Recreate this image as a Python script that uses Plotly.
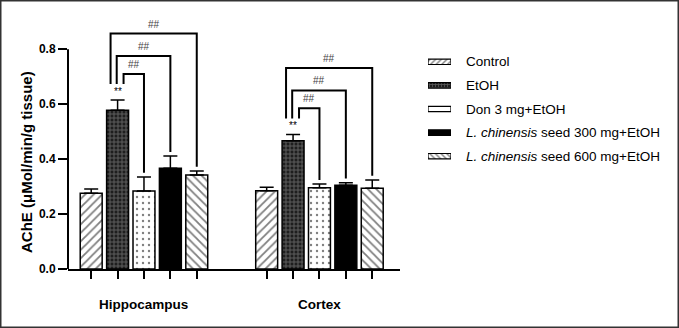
import plotly.graph_objects as go

# ---------------- data ----------------
regions = ["Hippocampus", "Cortex"]
groups = ["Control", "EtOH", "Don 3 mg+EtOH",
          "<i>L. chinensis</i> seed 300 mg+EtOH",
          "<i>L. chinensis</i> seed 600 mg+EtOH"]
hippo_mean = [0.276, 0.578, 0.284, 0.367, 0.342]
hippo_err = [0.015, 0.037, 0.051, 0.044, 0.015]
cortex_mean = [0.285, 0.467, 0.296, 0.305, 0.294]
cortex_err = [0.013, 0.023, 0.013, 0.009, 0.030]
ytick_vals = [0.0, 0.2, 0.4, 0.6, 0.8]
ytick_text = ["0.0", "0.2", "0.4", "0.6", "0.8"]
sig_star = "**"
sig_hash = "##"

# ---------------- styling ----------------
FONT = "Liberation Sans, Arial, sans-serif"
W, H = 679, 328
ML, MR, MT, MB = 68, 12, 8, 59
PW, PH = W - ML - MR, H - MT - MB
AX_W = 332                      # width of the bar-chart axis in px
step = 0.1504                   # spacing between bars within a group (x units)
bw = 0.125                      # bar width (x units)

def px_x(p):   # figure pixel x -> paper
    return (p - ML) / PW

def px_y(p):   # figure pixel y -> paper
    return (H - MB - p) / PH

patterns = [
    dict(shape="/", fgcolor="black", bgcolor="white", size=6, solidity=0.3),
    dict(shape="+", fgcolor="#9a9a9a", bgcolor="#1e1e1e", size=4, solidity=0.45),
    dict(shape=".", fgcolor="black", bgcolor="white", size=6, solidity=0.12),
    dict(shape="", fgcolor="black", bgcolor="black"),
    dict(shape="\\", fgcolor="black", bgcolor="white", size=6, solidity=0.3),
]
leg_patterns = [
    dict(shape="/", fgcolor="black", bgcolor="white", size=4, solidity=0.35),
    dict(shape="+", fgcolor="#9a9a9a", bgcolor="#1e1e1e", size=3, solidity=0.45),
    dict(shape="", fgcolor="white", bgcolor="white"),
    dict(shape="", fgcolor="black", bgcolor="black"),
    dict(shape="\\", fgcolor="black", bgcolor="white", size=4, solidity=0.35),
]
colors = ["white", "#1e1e1e", "white", "black", "white"]

fig = go.Figure()
all_pos = []
for i, name in enumerate(groups):
    xs = [g + (i - 2) * step for g in range(len(regions))]
    all_pos += xs
    means = [hippo_mean[i], cortex_mean[i]]
    errs = [hippo_err[i], cortex_err[i]]
    fig.add_trace(go.Bar(
        x=xs, y=means, width=bw, name=name, showlegend=False,
        marker=dict(color=colors[i], pattern=patterns[i],
                    line=dict(color="black", width=1.5)),
        error_y=dict(type="data", array=errs, arrayminus=[0, 0],
                     symmetric=False, color="black", thickness=1.5, width=7),
    ))
    # legend swatch as a short horizontal bar on a hidden auxiliary axis
    fig.add_trace(go.Bar(
        x=[1], y=[i], orientation="h", width=0.23, xaxis="x2", yaxis="y2",
        showlegend=False, hoverinfo="skip",
        marker=dict(color=colors[i], pattern=leg_patterns[i],
                    line=dict(color="black", width=1.2)),
    ))

shapes = []
annotations = []
# significance brackets: EtOH (index 1) vs groups 2,3,4
left_off = {2: 0.034, 3: -0.005, 4: -0.04}
rise = {2: 0.095, 3: 0.16, 4: 0.242}
for g, (means, errs) in enumerate([(hippo_mean, hippo_err), (cortex_mean, cortex_err)]):
    etoh_top = means[1] + errs[1]
    xe = g + (1 - 2) * step
    annotations.append(dict(x=xe, y=etoh_top, yshift=1, text=sig_star,
                            showarrow=False, yanchor="bottom",
                            font=dict(family=FONT, size=10, color="black")))
    for j in (2, 3, 4):
        xl = xe + left_off[j]
        xr = g + (j - 2) * step
        top = etoh_top + rise[j]
        lb = etoh_top + 0.058
        rb = means[j] + errs[j] + 0.015
        shapes.append(dict(type="path", xref="x", yref="y",
                           path=f"M {xl},{lb} L {xl},{top} L {xr},{top} L {xr},{rb}",
                           line=dict(color="black", width=2)))
        annotations.append(dict(x=(xl + xr) / 2, y=top, yshift=2, text=sig_hash,
                                showarrow=False, yanchor="bottom",
                                font=dict(family=FONT, size=10, color="#444")))
    annotations.append(dict(x=g, xref="x", y=px_y(304), yref="paper",
                            yanchor="middle", showarrow=False,
                            text=f"<b>{regions[g]}</b>",
                            font=dict(family=FONT, size=13.5, color="black")))

# legend texts
for i, name in enumerate(groups):
    annotations.append(dict(x=px_x(464), xref="paper", xanchor="left",
                            y=i, yref="y2", yanchor="middle", showarrow=False,
                            text=name, font=dict(family=FONT, size=13.5, color="black")))

# y axis line from 0 to 0.8
shapes.append(dict(type="line", xref="x domain", yref="y", x0=0, x1=0,
                   y0=0, y1=ytick_vals[-1], line=dict(color="black", width=2)))
# outer frame
shapes.append(dict(type="rect", xref="paper", yref="paper",
                   x0=px_x(0.75), x1=px_x(W - 0.75),
                   y0=px_y(H - 0.75), y1=px_y(0.75),
                   line=dict(color="#333", width=1.5)))
# y axis title
annotations.append(dict(x=px_x(26), xref="paper", y=px_y(162),
                        yref="paper", textangle=-90, showarrow=False,
                        xanchor="center", yanchor="middle",
                        text="<b>AChE (μMol/min/g tissue)</b>",
                        font=dict(family=FONT, size=15, color="black")))

fig.update_layout(
    width=W, height=H, margin=dict(l=ML, r=MR, t=MT, b=MB),
    paper_bgcolor="white", plot_bgcolor="white",
    barmode="overlay", showlegend=False,
    font=dict(family=FONT, color="black"),
    xaxis=dict(domain=[0, AX_W / PW], range=[-0.433, 1.459], showgrid=False,
               zeroline=False, showline=True, linecolor="black", linewidth=2,
               tickvals=all_pos, ticks="outside", ticklen=8, tickwidth=2,
               tickcolor="black", showticklabels=False),
    yaxis=dict(range=[0, 0.95], showgrid=False, zeroline=False, showline=False,
               tickvals=ytick_vals, ticktext=ytick_text, ticks="outside",
               ticklen=9, tickwidth=2, tickcolor="black",
               tickfont=dict(family=FONT, size=12, color="black", weight="bold")),
    xaxis2=dict(domain=[px_x(428), px_x(451)], range=[0, 1], visible=False,
                anchor="y2"),
    yaxis2=dict(domain=[px_y(168), px_y(50)], range=[4.5, -0.5], visible=False,
                anchor="x2"),
    shapes=shapes, annotations=annotations,
)

fig.write_html("out.html")
